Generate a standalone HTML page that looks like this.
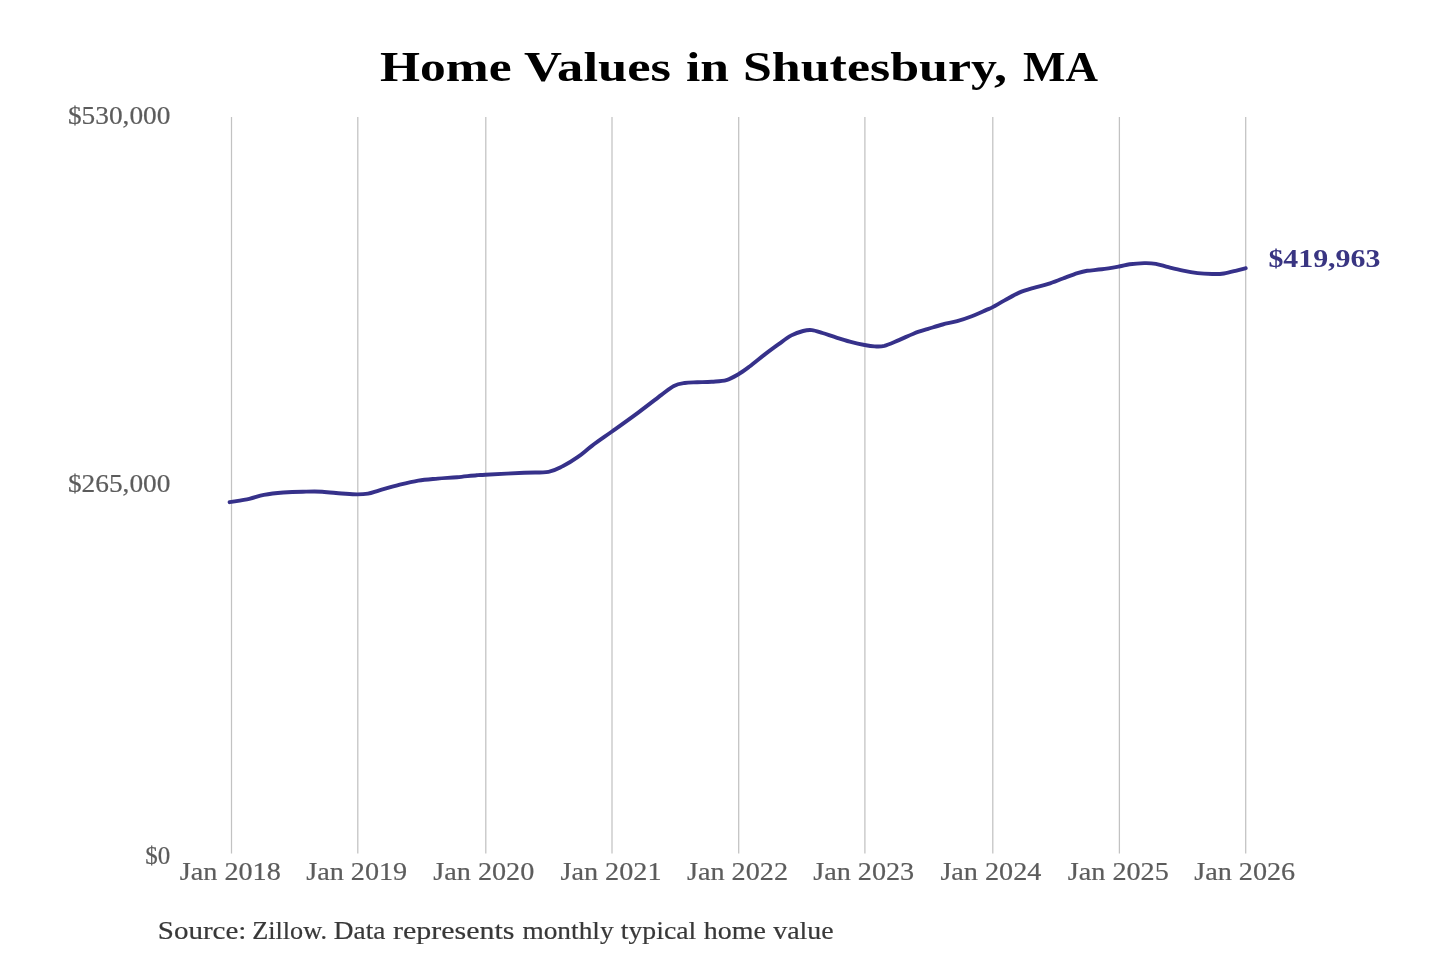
<!DOCTYPE html>
<html><head><meta charset="utf-8"><style>
html,body{margin:0;padding:0;background:#fff;}
svg{display:block;filter:blur(0.45px);}
text{font-family:"Liberation Serif", serif;}
</style></head><body>
<svg width="1440" height="960" viewBox="0 0 1440 960">
<rect width="1440" height="960" fill="#ffffff"/>
<g font-weight="bold" font-size="42" fill="#000">
<text x="380" y="80.8" textLength="131.5" lengthAdjust="spacingAndGlyphs">Home</text>
<text x="524" y="80.8" textLength="147" lengthAdjust="spacingAndGlyphs">Values</text>
<text x="686" y="80.8" textLength="43" lengthAdjust="spacingAndGlyphs">in</text>
<text x="743" y="80.8" textLength="264" lengthAdjust="spacingAndGlyphs">Shutesbury,</text>
<text x="1023" y="80.8" textLength="75" lengthAdjust="spacingAndGlyphs">MA</text>
</g>
<line x1="231.5" y1="117" x2="231.5" y2="853.5" stroke="#c2c2c2" stroke-width="1.25"/>
<line x1="357.8" y1="117" x2="357.8" y2="853.5" stroke="#c2c2c2" stroke-width="1.25"/>
<line x1="485.8" y1="117" x2="485.8" y2="853.5" stroke="#c2c2c2" stroke-width="1.25"/>
<line x1="612.0" y1="117" x2="612.0" y2="853.5" stroke="#c2c2c2" stroke-width="1.25"/>
<line x1="738.7" y1="117" x2="738.7" y2="853.5" stroke="#c2c2c2" stroke-width="1.25"/>
<line x1="864.9" y1="117" x2="864.9" y2="853.5" stroke="#c2c2c2" stroke-width="1.25"/>
<line x1="992.8" y1="117" x2="992.8" y2="853.5" stroke="#c2c2c2" stroke-width="1.25"/>
<line x1="1119.4" y1="117" x2="1119.4" y2="853.5" stroke="#c2c2c2" stroke-width="1.25"/>
<line x1="1245.7" y1="117" x2="1245.7" y2="853.5" stroke="#c2c2c2" stroke-width="1.25"/>
<g font-size="25" fill="#5c5c5c" stroke="#5c5c5c" stroke-width="0.2">
<text x="170.4" y="124.2" text-anchor="end" textLength="102.5" lengthAdjust="spacingAndGlyphs">$530,000</text>
<text x="170.4" y="492.2" text-anchor="end" textLength="102.5" lengthAdjust="spacingAndGlyphs">$265,000</text>
<text x="170.2" y="864" text-anchor="end" textLength="25" lengthAdjust="spacingAndGlyphs">$0</text>
<text x="230.3" y="879.6" text-anchor="middle" textLength="101" lengthAdjust="spacingAndGlyphs">Jan 2018</text>
<text x="356.7" y="879.6" text-anchor="middle" textLength="101" lengthAdjust="spacingAndGlyphs">Jan 2019</text>
<text x="483.8" y="879.6" text-anchor="middle" textLength="101" lengthAdjust="spacingAndGlyphs">Jan 2020</text>
<text x="611.0" y="879.6" text-anchor="middle" textLength="101" lengthAdjust="spacingAndGlyphs">Jan 2021</text>
<text x="737.5" y="879.6" text-anchor="middle" textLength="101" lengthAdjust="spacingAndGlyphs">Jan 2022</text>
<text x="863.7" y="879.6" text-anchor="middle" textLength="101" lengthAdjust="spacingAndGlyphs">Jan 2023</text>
<text x="990.9" y="879.6" text-anchor="middle" textLength="101" lengthAdjust="spacingAndGlyphs">Jan 2024</text>
<text x="1118.3" y="879.6" text-anchor="middle" textLength="101" lengthAdjust="spacingAndGlyphs">Jan 2025</text>
<text x="1244.7" y="879.6" text-anchor="middle" textLength="101" lengthAdjust="spacingAndGlyphs">Jan 2026</text>
</g>
<path d="M229.6,502.2 C232.9,501.6 243.6,500.0 249.3,498.8 C255.0,497.6 258.2,495.9 263.9,494.9 C269.6,493.8 276.8,493.0 283.3,492.5 C289.8,492.0 296.3,491.8 302.8,491.7 C309.3,491.6 315.7,491.4 322.2,491.7 C328.7,492.0 335.9,493.1 341.7,493.5 C347.5,493.9 352.8,494.4 357.2,494.4 C361.6,494.4 364.3,494.3 368.0,493.6 C371.7,492.9 374.2,491.8 379.4,490.3 C384.5,488.9 392.4,486.5 398.9,484.9 C405.4,483.3 411.8,481.7 418.3,480.6 C424.8,479.6 431.3,479.2 437.8,478.6 C444.3,478.0 450.7,477.8 457.2,477.2 C463.7,476.6 472.0,475.6 476.7,475.2 C481.4,474.8 477.5,475.1 485.4,474.7 C493.3,474.3 513.7,473.3 524.2,472.8 C534.7,472.3 542.0,472.9 548.5,471.8 C555.0,470.7 558.2,468.4 563.1,466.0 C568.0,463.6 572.8,460.6 577.6,457.2 C582.5,453.8 586.5,449.9 592.2,445.6 C597.9,441.3 604.3,437.0 612.0,431.5 C619.7,426.0 630.0,418.7 638.2,412.6 C646.4,406.5 655.2,399.6 661.1,395.1 C667.0,390.7 670.0,387.9 673.9,385.9 C677.8,383.9 680.7,383.6 684.6,383.0 C688.5,382.4 692.7,382.5 697.2,382.3 C701.7,382.1 706.9,382.1 711.8,381.7 C716.7,381.3 722.0,381.3 726.4,380.1 C730.8,378.9 734.5,376.6 738.4,374.3 C742.3,372.0 745.3,369.7 749.6,366.5 C753.9,363.3 759.4,358.6 764.2,354.9 C769.1,351.2 774.2,347.4 778.7,344.2 C783.2,340.9 787.3,337.6 791.4,335.4 C795.5,333.2 799.7,331.9 803.1,331.0 C806.5,330.1 808.6,329.8 811.8,330.1 C815.0,330.4 818.3,331.7 822.5,333.0 C826.7,334.3 832.2,336.3 837.1,337.8 C842.0,339.3 847.1,341.0 851.7,342.2 C856.3,343.4 860.8,344.3 864.6,345.0 C868.4,345.7 871.3,346.2 874.6,346.4 C877.9,346.5 880.2,346.9 884.3,345.9 C888.3,344.8 894.0,342.1 898.9,340.1 C903.8,338.1 908.6,335.6 913.5,333.7 C918.4,331.8 923.2,330.4 928.1,328.9 C933.0,327.4 937.8,325.8 942.6,324.5 C947.5,323.2 952.3,322.5 957.2,321.1 C962.1,319.7 966.9,318.1 971.8,316.2 C976.7,314.3 982.9,311.4 986.4,309.9 C989.9,308.4 989.7,308.7 992.7,307.1 C995.7,305.5 1000.2,302.8 1004.6,300.4 C1009.0,298.0 1014.4,294.7 1019.2,292.6 C1024.0,290.5 1028.9,289.2 1033.7,287.8 C1038.5,286.4 1043.4,285.4 1048.3,283.9 C1053.2,282.3 1058.0,280.3 1062.9,278.5 C1067.8,276.7 1073.5,274.5 1077.5,273.2 C1081.5,271.9 1083.2,271.4 1087.2,270.8 C1091.2,270.2 1096.5,270.0 1101.8,269.3 C1107.1,268.6 1114.5,267.3 1119.1,266.5 C1123.7,265.7 1125.4,264.9 1129.6,264.3 C1133.8,263.7 1139.8,263.2 1144.2,263.1 C1148.6,263.0 1151.8,263.1 1155.8,263.8 C1159.8,264.5 1164.0,266.1 1168.5,267.2 C1173.0,268.3 1178.2,269.6 1183.1,270.6 C1187.9,271.6 1192.8,272.5 1197.6,273.1 C1202.4,273.7 1207.8,273.9 1212.2,274.0 C1216.6,274.1 1219.9,274.1 1223.9,273.5 C1228.0,272.9 1232.9,271.5 1236.5,270.6 C1240.1,269.7 1244.2,268.6 1245.7,268.2" fill="none" stroke="#36318a" stroke-width="3.9" stroke-linecap="round" stroke-linejoin="round"/>
<text x="1268.4" y="266.7" font-weight="bold" font-size="25" fill="#393582" textLength="112" lengthAdjust="spacingAndGlyphs">$419,963</text>
<g font-size="25" fill="#383838" stroke="#383838" stroke-width="0.2">
<text x="157.80" y="938.7" textLength="88.60" lengthAdjust="spacingAndGlyphs">Source:</text>
<text x="252.20" y="938.7" textLength="74.80" lengthAdjust="spacingAndGlyphs">Zillow.</text>
<text x="333.80" y="938.7" textLength="51.60" lengthAdjust="spacingAndGlyphs">Data</text>
<text x="393.00" y="938.7" textLength="121.40" lengthAdjust="spacingAndGlyphs">represents</text>
<text x="522.40" y="938.7" textLength="91.20" lengthAdjust="spacingAndGlyphs">monthly</text>
<text x="620.80" y="938.7" textLength="75.40" lengthAdjust="spacingAndGlyphs">typical</text>
<text x="703.80" y="938.7" textLength="62.00" lengthAdjust="spacingAndGlyphs">home</text>
<text x="773.20" y="938.7" textLength="60.40" lengthAdjust="spacingAndGlyphs">value</text>
</g>
</svg>
</body></html>
